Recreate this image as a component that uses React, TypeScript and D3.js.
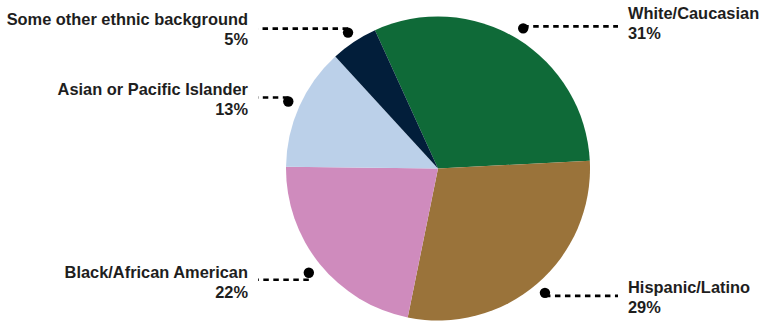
import React from "react";
import * as d3 from "d3";

const categories = [
  "White/Caucasian",
  "Hispanic/Latino",
  "Black/African American",
  "Asian or Pacific Islander",
  "Some other ethnic background",
];
const values = [31, 29, 22, 13, 5];
const colors = ["#0f6a38", "#9a733a", "#cf8bbd", "#bbd0e9", "#021e3a"];

// layout (not data): dot radial distance, leader line y offset from dot, name baseline offset from line
const dotRadii = [164, 164, 166, 164, 163];
const lineOffsets = [-2, 3, 7, -4, -4];
const textOffsets = [-7, -3, -2, -3, -4];

const W = 761;
const H = 324;
const cx = 438;
const cy = 168.5;
const R = 152;
const startDeg = -24.5;

export default function App() {
  const pie = d3
    .pie<number>()
    .sort(null)
    .value((d) => d)
    .startAngle((startDeg * Math.PI) / 180)
    .endAngle((startDeg * Math.PI) / 180 + 2 * Math.PI);
  const arcs = pie(values);
  const arc = d3.arc<d3.PieArcDatum<number>>().innerRadius(0).outerRadius(R);

  return (
    <svg
      width={W}
      height={H}
      style={{ position: "absolute", left: 0, top: 0, background: "#fff" }}
      fontFamily="'Liberation Sans', Arial, Helvetica, sans-serif"
    >
      <g transform={`translate(${cx},${cy})`}>
        {arcs.map((a, i) => (
          <path key={i} d={arc(a) || ""} fill={colors[i]} />
        ))}
      </g>
      {arcs.map((a, i) => {
        const mid = (a.startAngle + a.endAngle) / 2;
        const dx = cx + dotRadii[i] * Math.sin(mid);
        const dy = cy - dotRadii[i] * Math.cos(mid);
        const right = Math.sin(mid) > 0;
        const ly = dy + lineOffsets[i];
        const lineEnd = right ? 618 : 258;
        const textX = right ? 628 : 248;
        const ty = ly + textOffsets[i];
        return (
          <g key={i}>
            <line
              x1={dx}
              y1={ly}
              x2={lineEnd}
              y2={ly}
              stroke="#000"
              strokeWidth={2.6}
              strokeDasharray="5.5,4.5"
            />
            <circle cx={dx} cy={dy} r={5.2} fill="#000" />
            <text
              x={textX}
              y={ty}
              textAnchor={right ? "start" : "end"}
              fontSize={16.4}
              fontWeight="bold"
              fill="#1e1e1e"
            >
              {categories[i]}
            </text>
            <text
              x={textX}
              y={ty + 20}
              textAnchor={right ? "start" : "end"}
              fontSize={16.4}
              fontWeight="bold"
              fill="#1e1e1e"
            >
              {values[i]}%
            </text>
          </g>
        );
      })}
    </svg>
  );
}
